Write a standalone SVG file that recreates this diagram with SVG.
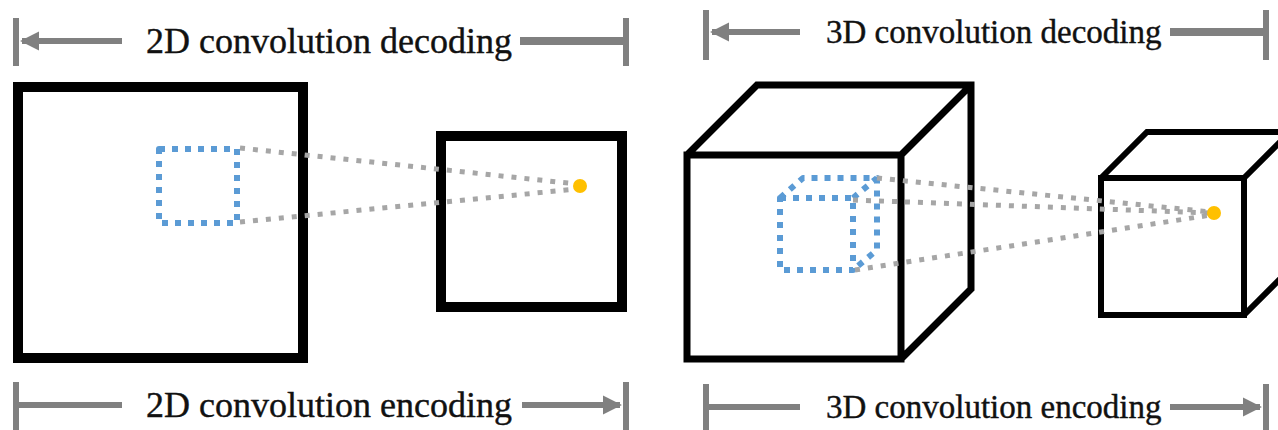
<svg xmlns="http://www.w3.org/2000/svg" width="1278" height="430" viewBox="0 0 1278 430">
  <style>
    .dim { stroke: #808080; stroke-width: 6; fill: none; }
    .dimthick { stroke: #808080; stroke-width: 8; fill: none; }
    .lbl { font-family: "Liberation Serif", "Times New Roman", serif; fill: #111; stroke: #111; stroke-width: 0.4; }
    .frame { fill: none; stroke: #000; stroke-linejoin: miter; }
    .kernel { fill: none; stroke: #5b9bd5; stroke-width: 6; stroke-dasharray: 6 7; stroke-linejoin: round; }
    .ray { fill: none; stroke: #a6a6a6; stroke-width: 5; stroke-dasharray: 5 8; }
    .pt { fill: #ffc000; }
  </style>
  <defs>
    <marker id="ah" viewBox="0 0 10 10" refX="9" refY="5" markerWidth="3.2" markerHeight="3.2" orient="auto-start-reverse" markerUnits="strokeWidth">
      <path d="M0,0 L10,5 L0,10 Z" fill="#808080"/>
    </marker>
  </defs>
  <rect width="1278" height="430" fill="#fff"/>

  <!-- 2D: input feature map -->
  <g id="map2d-in">
    <rect class="frame" x="18" y="87" width="285" height="271" stroke-width="10"/>
  </g>
  <!-- 2D: output feature map -->
  <g id="map2d-out">
    <rect class="frame" x="441" y="136" width="181" height="171" stroke-width="10"/>
  </g>
  <!-- 2D kernel window -->
  <g id="kernel2d">
    <rect class="kernel" x="159" y="149" width="78" height="74"/>
  </g>

  <!-- 3D: input volume -->
  <g id="vol3d-in">
    <path class="frame" stroke-width="7" d="M687,155 H901 V359 H687 Z M687,155 L757,85 H971 V289 L901,359 M901,155 L971,85"/>
  </g>
  <!-- 3D: output volume (runs off the right edge) -->
  <g id="vol3d-out">
    <path class="frame" stroke-width="6" d="M1101,178 H1244 V315 H1101 Z M1101,178 L1147,132 H1290 V269 L1244,315 M1244,178 L1290,132"/>
  </g>
  <!-- 3D kernel window -->
  <g id="kernel3d">
    <path class="kernel" d="M780,198 H853 V270 H780 Z M780,198 L803,178 H877 V250 L853,270 M853,198 L877,178"/>
  </g>

  <!-- receptive-field rays -->
  <g id="connectors">
    <line class="ray" x1="240" y1="148" x2="577" y2="184"/>
    <line class="ray" x1="240" y1="222" x2="577" y2="189"/>
    <line class="ray" x1="877" y1="178" x2="1211" y2="212"/>
    <line class="ray" x1="853" y1="200" x2="1211" y2="213"/>
    <line class="ray" x1="855" y1="270" x2="1211" y2="215"/>
  </g>
  <!-- output points -->
  <g id="points">
    <circle class="pt" cx="580" cy="186" r="7"/>
    <circle class="pt" cx="1214" cy="213" r="7"/>
  </g>

  <!-- dimension annotations -->
  <g id="dim-2d-decoding">
    <line class="dim" x1="16" y1="18" x2="16" y2="66"/>
    <line class="dim" x1="122" y1="41" x2="22" y2="41" marker-end="url(#ah)"/>
    <line class="dimthick" x1="520" y1="41" x2="626" y2="41"/>
    <line class="dim" x1="626" y1="18" x2="626" y2="66"/>
    <text class="lbl" x="146" y="53" font-size="36">2D convolution decoding</text>
  </g>
  <g id="dim-2d-encoding">
    <line class="dim" x1="16" y1="382" x2="16" y2="430"/>
    <line class="dim" x1="16" y1="405" x2="122" y2="405"/>
    <line class="dim" x1="522" y1="405" x2="620" y2="405" marker-end="url(#ah)"/>
    <line class="dim" x1="626" y1="382" x2="626" y2="430"/>
    <text class="lbl" x="146" y="417" font-size="36">2D convolution encoding</text>
  </g>
  <g id="dim-3d-decoding">
    <line class="dim" x1="706" y1="10" x2="706" y2="60"/>
    <line class="dim" x1="800" y1="32" x2="712" y2="32" marker-end="url(#ah)"/>
    <line class="dimthick" x1="1170" y1="32" x2="1266" y2="32"/>
    <line class="dim" x1="1266" y1="10" x2="1266" y2="60"/>
    <text class="lbl" x="826" y="43" font-size="33">3D convolution decoding</text>
  </g>
  <g id="dim-3d-encoding">
    <line class="dim" x1="706" y1="384" x2="706" y2="430"/>
    <line class="dim" x1="706" y1="407" x2="800" y2="407"/>
    <line class="dim" x1="1170" y1="407" x2="1260" y2="407" marker-end="url(#ah)"/>
    <line class="dim" x1="1266" y1="384" x2="1266" y2="430"/>
    <text class="lbl" x="826" y="418" font-size="33">3D convolution encoding</text>
  </g>
</svg>
